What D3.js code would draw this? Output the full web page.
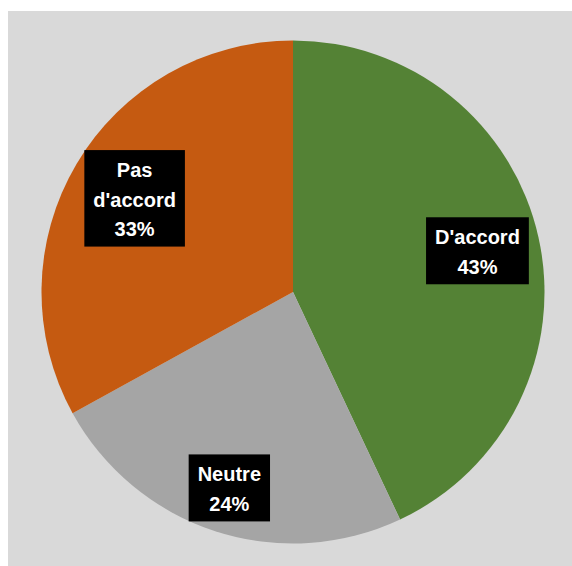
<!DOCTYPE html>
<html><head><meta charset="utf-8">
<script src="https://cdn.jsdelivr.net/npm/d3@7"></script>
<style>html,body{margin:0;padding:0;background:#fff;}svg{display:block;}</style>
</head><body>
<script>
const categories = ["D'accord", "Neutre", "Pas d'accord"];
const values = [43, 24, 33];
const labelLines = [["D'accord", "43%"], ["Neutre", "24%"], ["Pas", "d'accord", "33%"]];
const colors = ["#548235", "#a5a5a5", "#c55a11"];

const W = 572, H = 566;
const svg = d3.select("body").append("svg").attr("width", W).attr("height", H);
svg.append("rect").attr("x", 8).attr("y", 11).attr("width", W - 8).attr("height", H - 11).attr("fill", "#d9d9d9");

const cx = 293, cy = 292, R = 251.5;
const g = svg.append("g").attr("transform", `translate(${cx},${cy})`);
const pie = d3.pie().sort(null).value(d => d.v);
const data = pie(categories.map((c, i) => ({c, v: values[i], lines: labelLines[i], col: colors[i]})));
const arc = d3.arc().innerRadius(0).outerRadius(R);
g.selectAll("path.slice").data(data).enter().append("path")
  .attr("d", arc).attr("fill", d => d.data.col);

const labelR = [189, 206, 184];
const lineH = 29.5, padX = 9;
data.forEach((d, i) => {
  const la = d3.arc().innerRadius(labelR[i]).outerRadius(labelR[i]);
  const [lx, ly] = la.centroid(d);
  const lg = g.append("g").attr("transform", `translate(${lx},${ly})`);
  const n = d.data.lines.length;
  const bh = n * lineH + 8;
  const t = lg.append("text").attr("fill", "#fff").attr("font-family", "'Liberation Sans', Arial, sans-serif")
    .attr("font-weight", "bold").attr("font-size", 20).attr("text-anchor", "middle");
  d.data.lines.forEach((s, k) => {
    t.append("tspan").attr("x", 0).attr("y", -bh / 2 + 27 + k * lineH).text(s);
  });
  const bw = t.node().getBBox().width + 2 * padX;
  lg.insert("rect", "text").attr("x", -bw / 2).attr("y", -bh / 2).attr("width", bw).attr("height", bh).attr("fill", "#000");
});
</script>
</body></html>
